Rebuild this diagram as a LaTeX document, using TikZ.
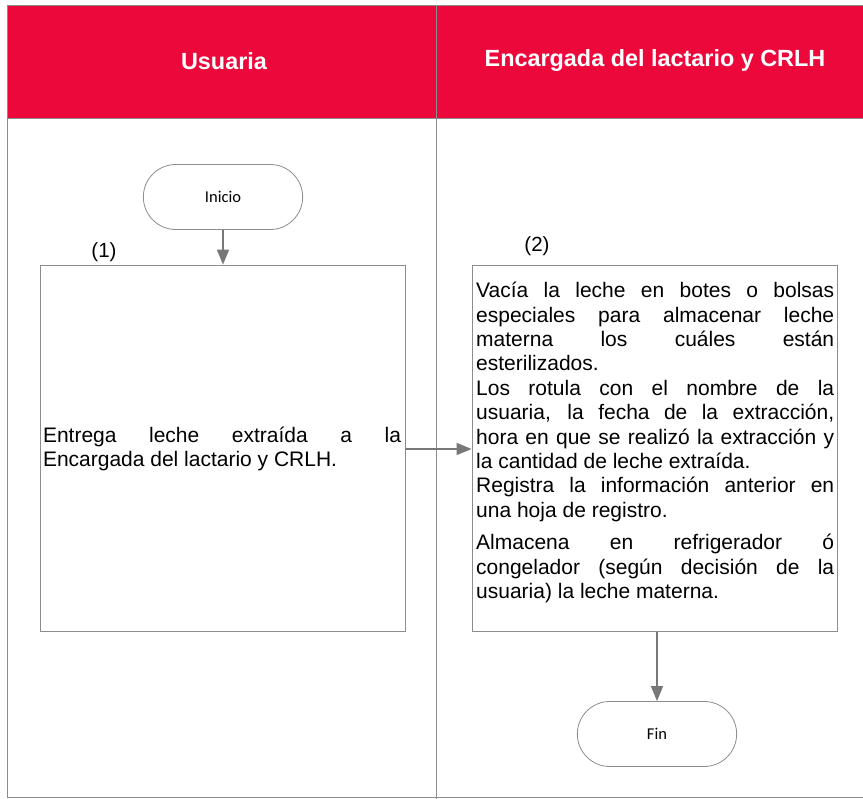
\documentclass[tikz,border=0pt]{standalone}
\usepackage{fontspec}
\setmainfont{Liberation Sans}
\newfontfamily\calib{Carlito}
\usetikzlibrary{arrows.meta,shapes.misc}
\definecolor{hdrred}{RGB}{236,8,58}
\definecolor{lgrey}{RGB}{140,140,140}
\definecolor{agrey}{RGB}{120,120,120}
\newcommand{\nohyph}{\hyphenpenalty=10000\relax\exhyphenpenalty=10000\relax}
\tikzset{
  lane/.style={draw=lgrey,line width=0.9pt},
  terminal/.style={draw=lgrey,line width=0.8pt,rounded rectangle,minimum width=166pt,minimum height=65pt,font=\calib\fontsize{16.5}{20}\selectfont},
  procbox/.style={draw=lgrey,line width=0.8pt,minimum width=365pt,minimum height=366pt,inner sep=0pt},
  flow/.style={draw=agrey,line width=1.4pt,-{Triangle[width=12pt,length=15pt,fill=agrey]}},
  body/.style={font=\fontsize{21}{24.4}\selectfont\nohyph,text width=358pt,align=justify,inner sep=0pt},
  hdr/.style={font=\bfseries\fontsize{23.4}{26}\selectfont,text=white},
  num/.style={font=\fontsize{20.5}{24}\selectfont}
}
\begin{document}
\begin{tikzpicture}[x=1pt,y=-1pt]
\useasboundingbox (0,0) rectangle (863,799);
\fill[white] (0,0) rectangle (863,799);
\fill[hdrred] (7,5) rectangle (863,118);
\draw[lane] (7,5) -- (863,5);
\draw[lane] (7,5) -- (7,797) -- (863,797);
\draw[lane] (7,118) -- (863,118);
\draw[lane] (436,5) -- (436,799);
\node[hdr] (h1) at (224,61) {Usuaria};
\node[hdr] (h2) at (655,61) {Encargada del lactario y CRLH};
\node[terminal] (ini) at (223,197) {Inicio};
\node[procbox] (b1) at (222.5,448) {};
\node[num] (n1) at (104,252) {(1)};
\node[body] (t1) at (222,449) {Entrega leche extraída a la\linebreak Encargada del lactario y CRLH.};
\node[procbox] (b2) at (654.5,448.5) {};
\node[num] (n2) at (537,246) {(2)};
\node[body,anchor=north west] (t2) at (476,282) {Vacía la leche en botes o bolsas\linebreak especiales para almacenar leche\linebreak materna los cuáles están\linebreak esterilizados.\par Los rotula con el nombre de la\linebreak usuaria, la fecha de la extracción,\linebreak hora en que se realizó la extracción y\linebreak la cantidad de leche extraída.\par Registra la información anterior en\linebreak una hoja de registro.\par\vspace{8pt} Almacena en refrigerador ó\linebreak congelador (según decisión de la\linebreak usuaria) la leche materna.};
\node[terminal] (fin) at (657,734) {Fin};
\draw[flow] (ini.south) -- (b1.north -| ini.south);
\draw[flow] (b1.east |- t1) -- (b2.west |- t1);
\draw[flow] (b2.south -| fin.north) -- (fin.north);
\end{tikzpicture}
\end{document}
